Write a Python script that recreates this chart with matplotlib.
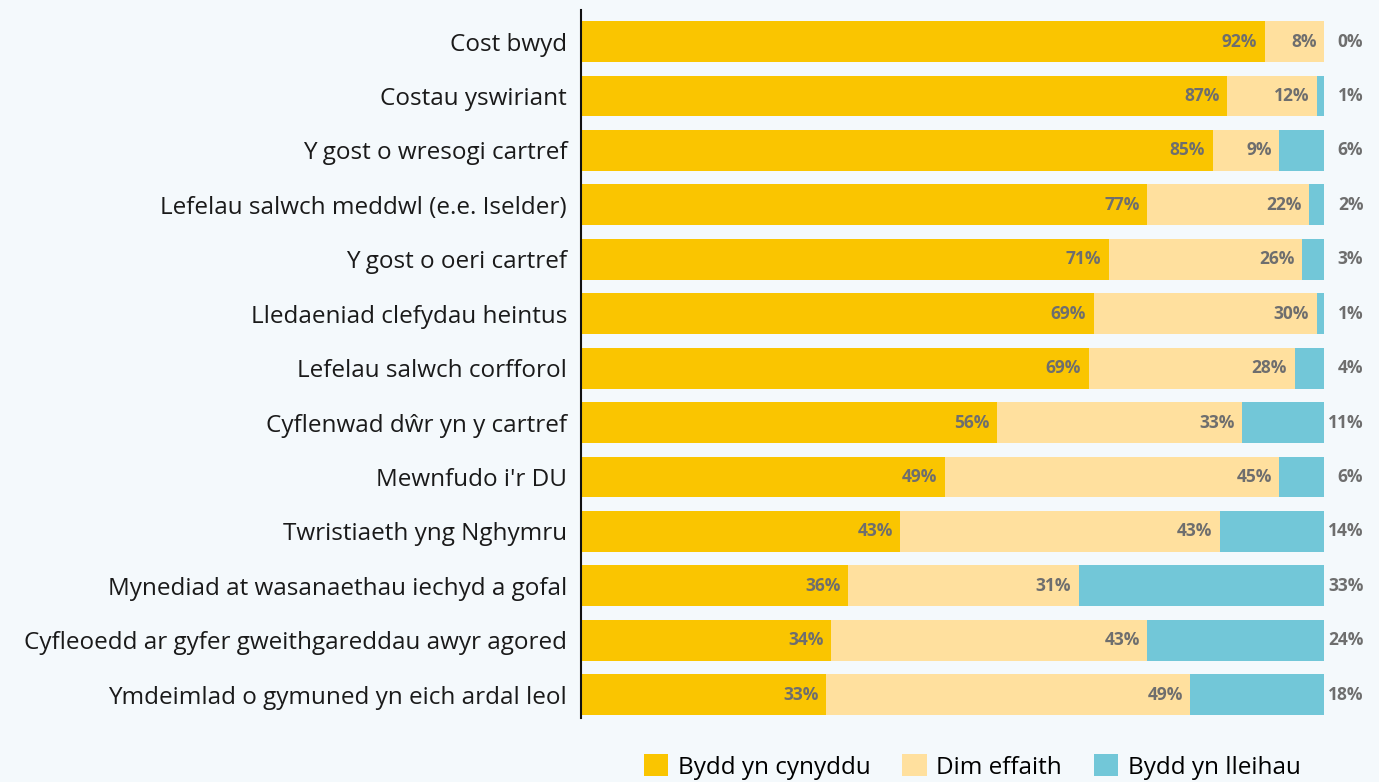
import matplotlib.pyplot as plt
import numpy as np

plt.rcParams['font.family'] = ['Open Sans', 'DejaVu Sans']

categories = ["Cost bwyd", "Costau yswiriant", "Y gost o wresogi cartref",
              "Lefelau salwch meddwl (e.e. Iselder)", "Y gost o oeri cartref",
              "Lledaeniad clefydau heintus", "Lefelau salwch corfforol",
              "Cyflenwad dŵr yn y cartref", "Mewnfudo i'r DU",
              "Twristiaeth yng Nghymru", "Mynediad at wasanaethau iechyd a gofal",
              "Cyfleoedd ar gyfer gweithgareddau awyr agored",
              "Ymdeimlad o gymuned yn eich ardal leol"]
increase = [92, 87, 85, 77, 71, 69, 69, 56, 49, 43, 36, 34, 33]
no_effect = [8, 12, 9, 22, 26, 30, 28, 33, 45, 43, 31, 43, 49]
decrease = [0, 1, 6, 2, 3, 1, 4, 11, 6, 14, 33, 24, 18]
series_names = ["Bydd yn cynyddu", "Dim effaith", "Bydd yn lleihau"]
colors = ["#FAC500", "#FFE09E", "#72C7D8"]
bg = "#F4F9FC"

fig = plt.figure(figsize=(13.79, 7.82), dpi=100, facecolor=bg)
ax = fig.add_axes([0.4213, 0.0818, 0.5388, 0.9054], facecolor=bg)

data = np.array([increase, no_effect, decrease], dtype=float)
totals = data.sum(axis=0)
shares = data / totals * 100
y = np.arange(len(categories))

left = np.zeros(len(categories))
for i in range(3):
    ax.barh(y, shares[i], left=left, height=0.75, color=colors[i],
            label=series_names[i], edgecolor='none')
    right = left + shares[i]
    for j in range(len(categories)):
        txt = f"{int(data[i][j])}%"
        if i < 2:
            ax.text(right[j] - 1.0, y[j], txt, ha='right', va='center',
                    fontsize=12.5, fontweight='bold', color='#6E6E6E')
        else:
            ax.text(105.3, y[j], txt, ha='right', va='center',
                    fontsize=12.5, fontweight='bold', color='#6E6E6E')
    left = right

ax.set_xlim(0, 100)
ax.set_ylim(12.43, -0.58)
ax.set_yticks(y)
ax.set_yticklabels(categories, fontsize=17.5, color='#1a1a1a')
ax.tick_params(axis='y', length=0, pad=10)
ax.set_xticks([])
for s in ['top', 'right', 'bottom']:
    ax.spines[s].set_visible(False)
ax.spines['left'].set_color('#111111')
ax.spines['left'].set_linewidth(1.5)

leg = fig.legend(loc='lower center', bbox_to_anchor=(0.705, -0.025), ncol=3,
                 frameon=False, fontsize=17.5, handlelength=1.0, handleheight=1.0,
                 handletextpad=0.4, columnspacing=1.3)

fig.savefig("out.png", dpi=100, facecolor=bg)
